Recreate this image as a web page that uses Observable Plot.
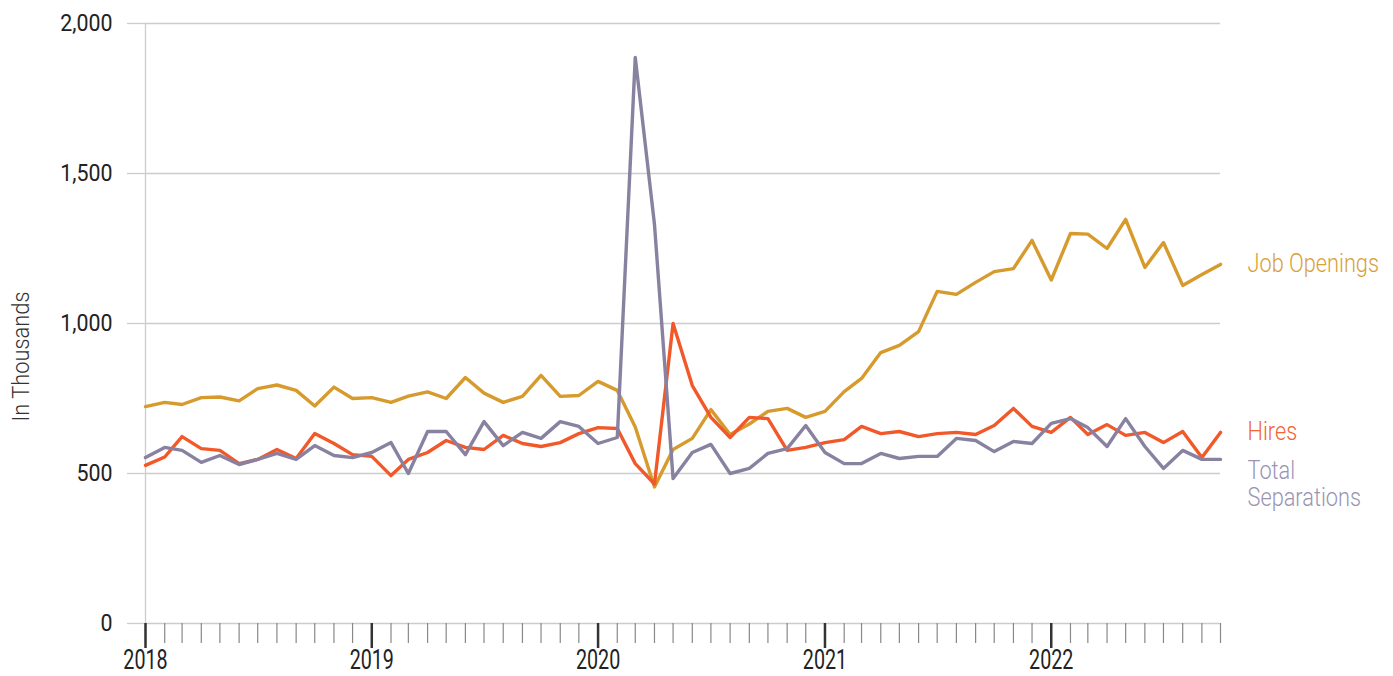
<!DOCTYPE html>
<html>
<head>
<meta charset="utf-8">
<script src="https://cdn.jsdelivr.net/npm/d3@7"></script>
<script src="https://cdn.jsdelivr.net/npm/@observablehq/plot@0.6"></script>
<style>
  html, body { margin: 0; padding: 0; background: #fff; }
  #chart svg { display: block; }
</style>
</head>
<body>
<div id="chart"></div>
<script>
// Monthly data, Jan 2018 – Oct 2022 (in thousands)
const startMonth = "2018-01-01";
const endMonth = "2022-10-01";

const seriesNames = ["Job Openings", "Hires", "Total Separations"];
const seriesLabels = ["Job Openings", "Hires", "Total\nSeparations"];
const seriesColors = ["#D69A2D", "#F2592A", "#8881A0"];
const labelColors = ["#D8A03A", "#F26534", "#9A94B2"];
const yAxisTitle = "In Thousands";

const jobOpenings = [
  723, 737, 730, 753, 755, 742, 783, 795, 777, 725, 788, 750,
  753, 737, 758, 772, 750, 820, 768, 737, 757, 827, 757, 760,
  807, 777, 655, 455, 580, 617, 713, 630, 665, 707, 717, 687,
  707, 773, 817, 903, 927, 973, 1107, 1097, 1137, 1173, 1183, 1277,
  1145, 1300, 1298, 1250, 1347, 1187, 1270, 1127, 1163, 1197
];
const hires = [
  527, 555, 623, 583, 577, 533, 547, 580, 550, 633, 600, 563,
  557, 493, 547, 570, 610, 587, 580, 627, 600, 590, 603, 633,
  653, 650, 533, 465, 1000, 793, 687, 620, 687, 683, 577, 587,
  603, 613, 657, 633, 640, 623, 633, 637, 630, 660, 717, 657,
  637, 687, 630, 663, 627, 637, 603, 640, 553, 637
];
const totalSeparations = [
  553, 587, 577, 537, 560, 530, 547, 567, 547, 593, 560, 553,
  570, 603, 500, 640, 640, 563, 673, 593, 637, 617, 673, 657,
  600, 620, 1887, 1330, 483, 570, 597, 500, 517, 567, 583, 660,
  570, 533, 533, 567, 550, 557, 557, 617, 610, 573, 607, 600,
  667, 683, 653, 590, 683, 590, 517, 577, 547, 547
];
const yTicks = [0, 500, 1000, 1500, 2000];

const valuesBySeries = [jobOpenings, hires, totalSeparations];
const months = d3.utcMonth.range(new Date(startMonth), d3.utcMonth.offset(new Date(endMonth), 1));

const rows = [];
seriesNames.forEach((name, s) => {
  valuesBySeries[s].forEach((v, i) => rows.push({series: name, date: months[i], value: v}));
});
const lastRows = seriesNames.map((name, s) => ({
  series: name,
  label: seriesLabels[s],
  color: labelColors[s],
  date: months[months.length - 1],
  value: valuesBySeries[s][valuesBySeries[s].length - 1]
}));

const FONT = "Roboto, 'Noto Sans', sans-serif";

const chart = Plot.plot({
  width: 1393,
  height: 676,
  marginLeft: 145,
  marginRight: 173,
  marginTop: 23,
  marginBottom: 53,
  style: {fontFamily: FONT, fontSize: "24px", color: "#222", background: "#fff"},
  x: {type: "utc", domain: [new Date(startMonth), new Date(endMonth)]},
  y: {domain: [0, 2000]},
  color: {domain: seriesNames, range: seriesColors},
  marks: [
    Plot.gridY(yTicks, {stroke: "#cccccc", strokeOpacity: 1, strokeWidth: 1.3}),
    Plot.ruleX([new Date(startMonth)], {stroke: "#cccccc", strokeWidth: 1.3}),
    Plot.axisY(yTicks, {
      tickFormat: d3.format(","), tickSize: 18, tickPadding: 15,
      stroke: "#cccccc", strokeWidth: 1.3, fill: "#222", fontSize: 24, label: null
    }),
    Plot.text([yAxisTitle], {
      frameAnchor: "left", rotate: -90, dx: -124, dy: 33,
      textAnchor: "middle", lineAnchor: "middle", fontSize: 23, fontWeight: 300,
      fill: "#333", className: "ytitle"
    }),
    Plot.axisX({
      ticks: d3.utcMonth.every(1), tickFormat: () => "", tickSize: 20,
      stroke: "#888", strokeWidth: 1.2, label: null
    }),
    Plot.axisX({
      ticks: d3.utcYear.every(1), tickFormat: d3.utcFormat("%Y"), tickSize: 25,
      tickPadding: 1, stroke: "#333", strokeWidth: 2.5, fill: "#222", fontSize: 27, label: null
    }),
    Plot.lineY(rows, {x: "date", y: "value", z: "series", stroke: "series", strokeWidth: 3.4}),
    Plot.text(lastRows.filter(d => d.series !== "Total Separations"), {
      x: "date", y: "value", text: "label", fill: "color", dx: 27,
      textAnchor: "start", fontSize: 25, fontWeight: 300, className: "slabel"
    }),
    Plot.text(lastRows.filter(d => d.series === "Total Separations"), {
      x: "date", y: "value", text: "label", fill: "color", dx: 27, dy: 0,
      textAnchor: "start", lineAnchor: "top", lineHeight: 1.1, fontSize: 25, fontWeight: 300,
      className: "slabel"
    })
  ]
});
document.getElementById("chart").appendChild(chart);

// Narrow the glyphs horizontally (the reference uses a condensed face) while keeping real text.
// Appending scale(f,1) to each text's own transform keeps its anchor point fixed.
function condense(selector, factor) {
  chart.querySelectorAll(selector).forEach(g => {
    g.querySelectorAll("text").forEach(t => {
      const tr = t.getAttribute("transform") || "";
      t.setAttribute("transform", `${tr} scale(${factor},1)`.trim());
    });
  });
}
condense('g[aria-label="y-axis tick label"]', 0.89);
condense('g[aria-label="x-axis tick label"]', 0.73);
condense('g.ytitle', 0.95);
condense('g.slabel', 0.87);
</script>
</body>
</html>
